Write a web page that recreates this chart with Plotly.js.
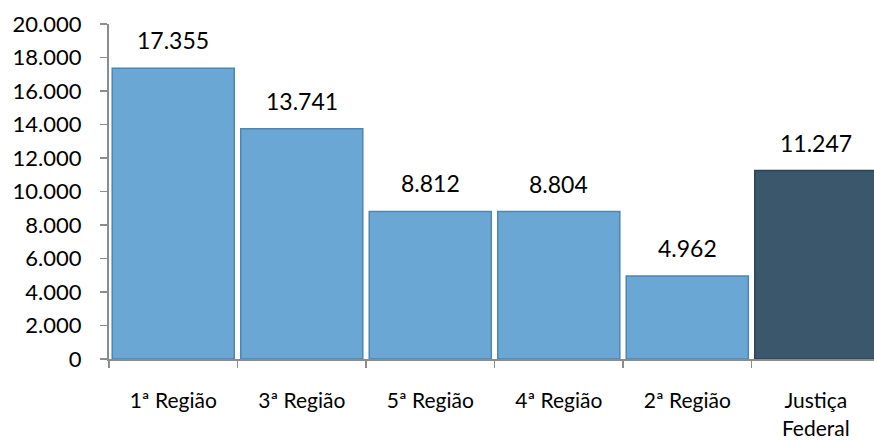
<!DOCTYPE html>
<html>
<head>
<meta charset="utf-8">
<script src="https://cdn.plot.ly/plotly-3.0.1.min.js"></script>
<style>html,body{margin:0;padding:0;background:#fff;}#chart{width:874px;height:441px;}</style>
</head>
<body>
<div id="chart"></div>
<script>
const categories = ["1ª Região", "3ª Região", "5ª Região", "4ª Região", "2ª Região", "Justiça<br>Federal"];
const values = [17355, 13741, 8812, 8804, 4962, 11247];
const valueLabels = ["17.355", "13.741", "8.812", "8.804", "4.962", "11.247"];
const barColors = ["#6aa7d4", "#6aa7d4", "#6aa7d4", "#6aa7d4", "#6aa7d4", "#3b576c"];
const lineColors = ["#4f86b0", "#4f86b0", "#4f86b0", "#4f86b0", "#4f86b0", "#2c4457"];
const yTicks = [0, 2000, 4000, 6000, 8000, 10000, 12000, 14000, 16000, 18000, 20000];

const fontFam = "Lato, 'Open Sans', sans-serif";

const trace = {
  type: "bar",
  x: categories,
  y: values,
  width: 0.95,
  marker: {color: barColors, line: {color: lineColors, width: 1.5}},
  hoverinfo: "skip"
};

const annotations = categories.map((c, i) => ({
  x: c, y: values[i], xref: "x", yref: "y",
  text: valueLabels[i],
  showarrow: false, yanchor: "bottom", yshift: 12,
  font: {family: fontFam, size: 23, color: "#000"}
}));

const layout = {
  width: 874, height: 441,
  margin: {l: 109, r: 0, t: 24, b: 82},
  separators: ",.",
  paper_bgcolor: "#fff", plot_bgcolor: "#fff",
  showlegend: false,
  bargap: 0.05,
  font: {family: fontFam, color: "#000"},
  xaxis: {
    type: "category",
    range: [-0.5, 5.453],
    showline: true, linecolor: "#8c8c8c", linewidth: 2,
    ticks: "outside", tickson: "boundaries", ticklen: 7, tickwidth: 1.5, tickcolor: "#8c8c8c",
    tickfont: {family: fontFam, size: 21, color: "#000"},
    ticklabelstandoff: 22,
    showgrid: false, zeroline: false, fixedrange: true
  },
  yaxis: {
    range: [0, 20000],
    tickvals: yTicks,
    tickformat: ",d",
    showline: true, linecolor: "#8c8c8c", linewidth: 2,
    ticks: "outside", ticklen: 7, tickwidth: 1.5, tickcolor: "#8c8c8c",
    tickfont: {family: fontFam, size: 22, color: "#000"},
    ticklabelstandoff: 14,
    showgrid: false, zeroline: false, fixedrange: true
  },
  annotations: annotations
};

Plotly.newPlot("chart", [trace], layout, {displayModeBar: false, staticPlot: true});
</script>
</body>
</html>
